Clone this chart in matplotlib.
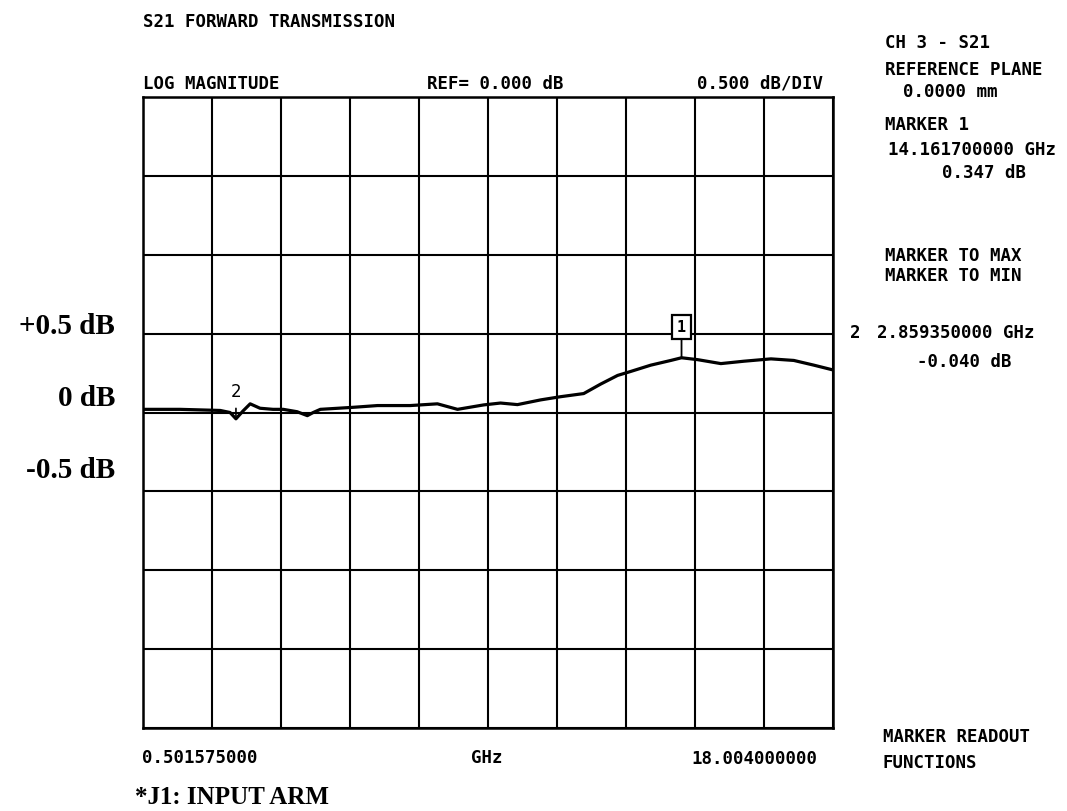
import numpy as np
import matplotlib.pyplot as plt

# trace (GHz, dB)
freq_ghz = [0.50, 1.44, 2.46, 2.71, 2.859, 3.04, 3.22, 3.47, 3.80, 4.06, 4.41, 4.67,
            4.82, 5.00, 5.84, 6.45, 7.28, 7.97, 8.48, 9.14, 9.57, 10.00, 10.59, 11.09,
            11.68, 12.11, 12.54, 12.87, 13.38, 13.89, 14.1617, 14.57, 15.16, 15.74,
            16.43, 17.01, 17.52, 18.00]
s21_db = [0.020, 0.020, 0.013, 0.000, -0.040, 0.010, 0.055, 0.027, 0.020, 0.020, 0.005, -0.020,
          0.000, 0.020, 0.033, 0.044, 0.044, 0.055, 0.020, 0.048, 0.060, 0.050, 0.080, 0.100,
          0.120, 0.180, 0.235, 0.260, 0.300, 0.330, 0.347, 0.335, 0.310, 0.325,
          0.340, 0.330, 0.300, 0.270]

f_start, f_stop = 0.501575, 18.004
marker1 = (14.1617, 0.347)
marker2 = (2.85935, -0.040)

W, H = 1067, 811
fig = plt.figure(figsize=(W / 100, H / 100), dpi=100)
fig.patch.set_facecolor('white')

ax = fig.add_axes([143 / W, 1 - 728 / H, 690 / W, 631 / H])
ax.plot(freq_ghz, s21_db, color='black', lw=2.3, solid_capstyle='round',
        solid_joinstyle='round', zorder=3)
ax.set_xlim(f_start, f_stop)
ax.set_ylim(-2.0, 2.0)
ax.set_xticks(np.linspace(f_start, f_stop, 11))
ax.set_yticks(np.arange(-2.0, 2.01, 0.5))
ax.grid(True, color='black', lw=1.5)
ax.tick_params(length=0, labelbottom=False, labelleft=False)
for s in ax.spines.values():
    s.set_linewidth(1.8)

mono = dict(family='DejaVu Sans Mono', weight='bold', size=12.5, color='black')
serif = dict(family='Liberation Serif', weight='bold', color='black')

# markers
ax.annotate('1', xy=marker1, xytext=(0, 22), textcoords='offset points',
            ha='center', va='center', fontsize=11, fontfamily='DejaVu Sans Mono',
            fontweight='bold',
            bbox=dict(boxstyle='square,pad=0.3', fc='white', ec='black', lw=1.6),
            arrowprops=dict(arrowstyle='-', color='black', lw=1.3, shrinkA=0, shrinkB=0))
ax.annotate('2', xy=marker2, xytext=(0, 19), textcoords='offset points',
            ha='center', va='center', fontsize=12, fontfamily='DejaVu Sans',
            arrowprops=dict(arrowstyle='-', color='black', lw=1.2, shrinkA=3, shrinkB=2))


def put(x, y, s, ha='left', **kw):
    fig.text(x / W, 1 - y / H, s, ha=ha, va='center', **kw)


put(143, 22, 'S21 FORWARD TRANSMISSION', **mono)
put(143, 84, 'LOG MAGNITUDE', **mono)
put(427, 84, 'REF= 0.000 dB', **mono)
put(823, 84, '0.500 dB/DIV', ha='right', **mono)

put(885, 43, 'CH 3 - S21', **mono)
put(885, 70, 'REFERENCE PLANE', **mono)
put(903, 92, '0.0000 mm', **mono)
put(885, 125, 'MARKER 1', **mono)
put(888, 150, '14.161700000 GHz', **mono)
put(942, 173, '0.347 dB', **mono)
put(885, 256, 'MARKER TO MAX', **mono)
put(885, 276, 'MARKER TO MIN', **mono)
put(850, 333, '2', **mono)
put(877, 333, '2.859350000 GHz', **mono)
put(917, 362, '-0.040 dB', **mono)

put(142, 758, '0.501575000', **mono)
put(487, 758, 'GHz', ha='center', **mono)
put(817, 759, '18.004000000', ha='right', **mono)
put(883, 737, 'MARKER READOUT', **mono)
put(883, 763, 'FUNCTIONS', **mono)

put(115, 327, '+0.5 dB', ha='right', size=21, **serif)
put(115, 399, '0 dB', ha='right', size=21, **serif)
put(115, 470, '-0.5 dB', ha='right', size=21, **serif)
put(135, 798, '*J1: INPUT ARM', size=18, **serif)

fig.savefig('out.png', dpi=100, facecolor='white')
